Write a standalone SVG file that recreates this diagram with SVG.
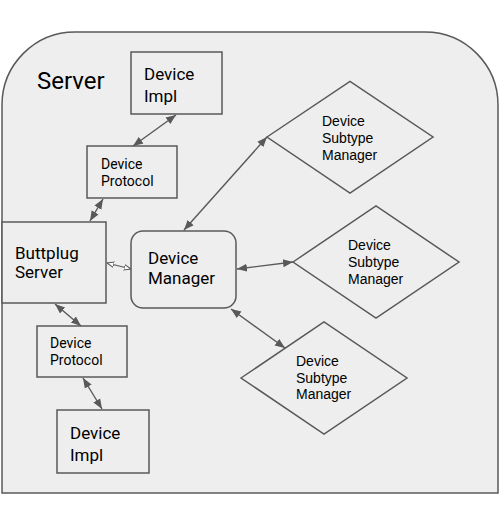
<svg xmlns="http://www.w3.org/2000/svg" width="500" height="522" viewBox="0 0 500 522">
<defs>
<marker id="ah" viewBox="0 0 10 10" refX="10" refY="5" markerWidth="10" markerHeight="10" markerUnits="userSpaceOnUse" orient="auto-start-reverse">
<path d="M0,1 L10,5 L0,9 Z" fill="#595959"/>
</marker>
<marker id="ahs" viewBox="0 0 10 10" refX="10" refY="5" markerWidth="7" markerHeight="7" markerUnits="userSpaceOnUse" orient="auto-start-reverse">
<path d="M0,1 L10,5 L0,9 Z" fill="#ffffff" stroke="#595959" stroke-width="1.5"/>
</marker>
<style>
.box{fill:#eeeeee;stroke:#595959;stroke-width:1.5}
.t{font-family:Roboto,"Liberation Sans",sans-serif;fill:#000}
.t17{font-size:17px}
.t14{font-size:14px}
.d{font-family:"Liberation Sans",Arial,sans-serif;font-size:14px;fill:#000}
.c{stroke:#595959;stroke-width:1.4;fill:none;marker-start:url(#ah);marker-end:url(#ah)}
</style>
</defs>
<rect x="0" y="0" width="500" height="522" fill="#ffffff"/>
<g id="server">
<path class="box" d="M2,493 L2,105 A73,73 0 0 1 75,32 L425,32 A73,73 0 0 1 498,105 L498,493 Z"/>
<text class="t" x="37" y="89" font-size="24">Server</text>
</g>
<g id="impl-top">
<rect class="box" x="131" y="52" width="91" height="62"/>
<text class="t t17" x="144" y="80">Device</text>
<text class="t t17" x="144" y="102">Impl</text>
</g>
<g id="protocol-top">
<rect class="box" x="87" y="146" width="90" height="52"/>
<text class="t t14" x="101" y="169">Device</text>
<text class="t t14" x="101" y="186">Protocol</text>
</g>
<g id="buttplug-server">
<rect class="box" x="2" y="222" width="104" height="81"/>
<text class="t t17" x="15" y="259">Buttplug</text>
<text class="t t17" x="15" y="278">Server</text>
</g>
<g id="device-manager">
<rect class="box" x="131" y="231" width="105" height="77" rx="12"/>
<text class="t t17" x="148" y="264">Device</text>
<text class="t t17" x="148" y="284">Manager</text>
</g>
<g id="protocol-bottom">
<rect class="box" x="37" y="326" width="90" height="51"/>
<text class="t t14" x="50" y="348">Device</text>
<text class="t t14" x="50" y="365">Protocol</text>
</g>
<g id="impl-bottom">
<rect class="box" x="57" y="410" width="92" height="63"/>
<text class="t t17" x="70" y="439">Device</text>
<text class="t t17" x="70" y="461">Impl</text>
</g>
<g id="subtype-1">
<path class="box" d="M267,137 L350,81.5 L433,137 L350,193 Z"/>
<text class="d" x="322" y="126">Device</text>
<text class="d" x="322" y="143">Subtype</text>
<text class="d" x="322" y="159.5">Manager</text>
</g>
<g id="subtype-2">
<path class="box" d="M293,262 L376,206 L459,262 L376,318 Z"/>
<text class="d" x="348" y="250">Device</text>
<text class="d" x="348" y="267">Subtype</text>
<text class="d" x="348" y="283.5">Manager</text>
</g>
<g id="subtype-3">
<path class="box" d="M241,378 L324,322 L407,378 L324,434 Z"/>
<text class="d" x="296" y="366">Device</text>
<text class="d" x="296" y="382.5">Subtype</text>
<text class="d" x="296" y="399">Manager</text>
</g>
<g id="connectors">
<line class="c" x1="176" y1="115" x2="133" y2="146"/>
<line class="c" x1="103" y1="199" x2="90" y2="221"/>
<line stroke="#595959" stroke-width="1.2" marker-start="url(#ahs)" marker-end="url(#ahs)" x1="107" y1="263" x2="131" y2="269"/>
<line class="c" x1="55" y1="304" x2="81" y2="326"/>
<line class="c" x1="83" y1="378" x2="102" y2="409"/>
<line class="c" x1="184" y1="230" x2="267" y2="137"/>
<line class="c" x1="237" y1="269" x2="293" y2="262"/>
<line class="c" x1="231" y1="309" x2="285" y2="348"/>
</g>
</svg>
